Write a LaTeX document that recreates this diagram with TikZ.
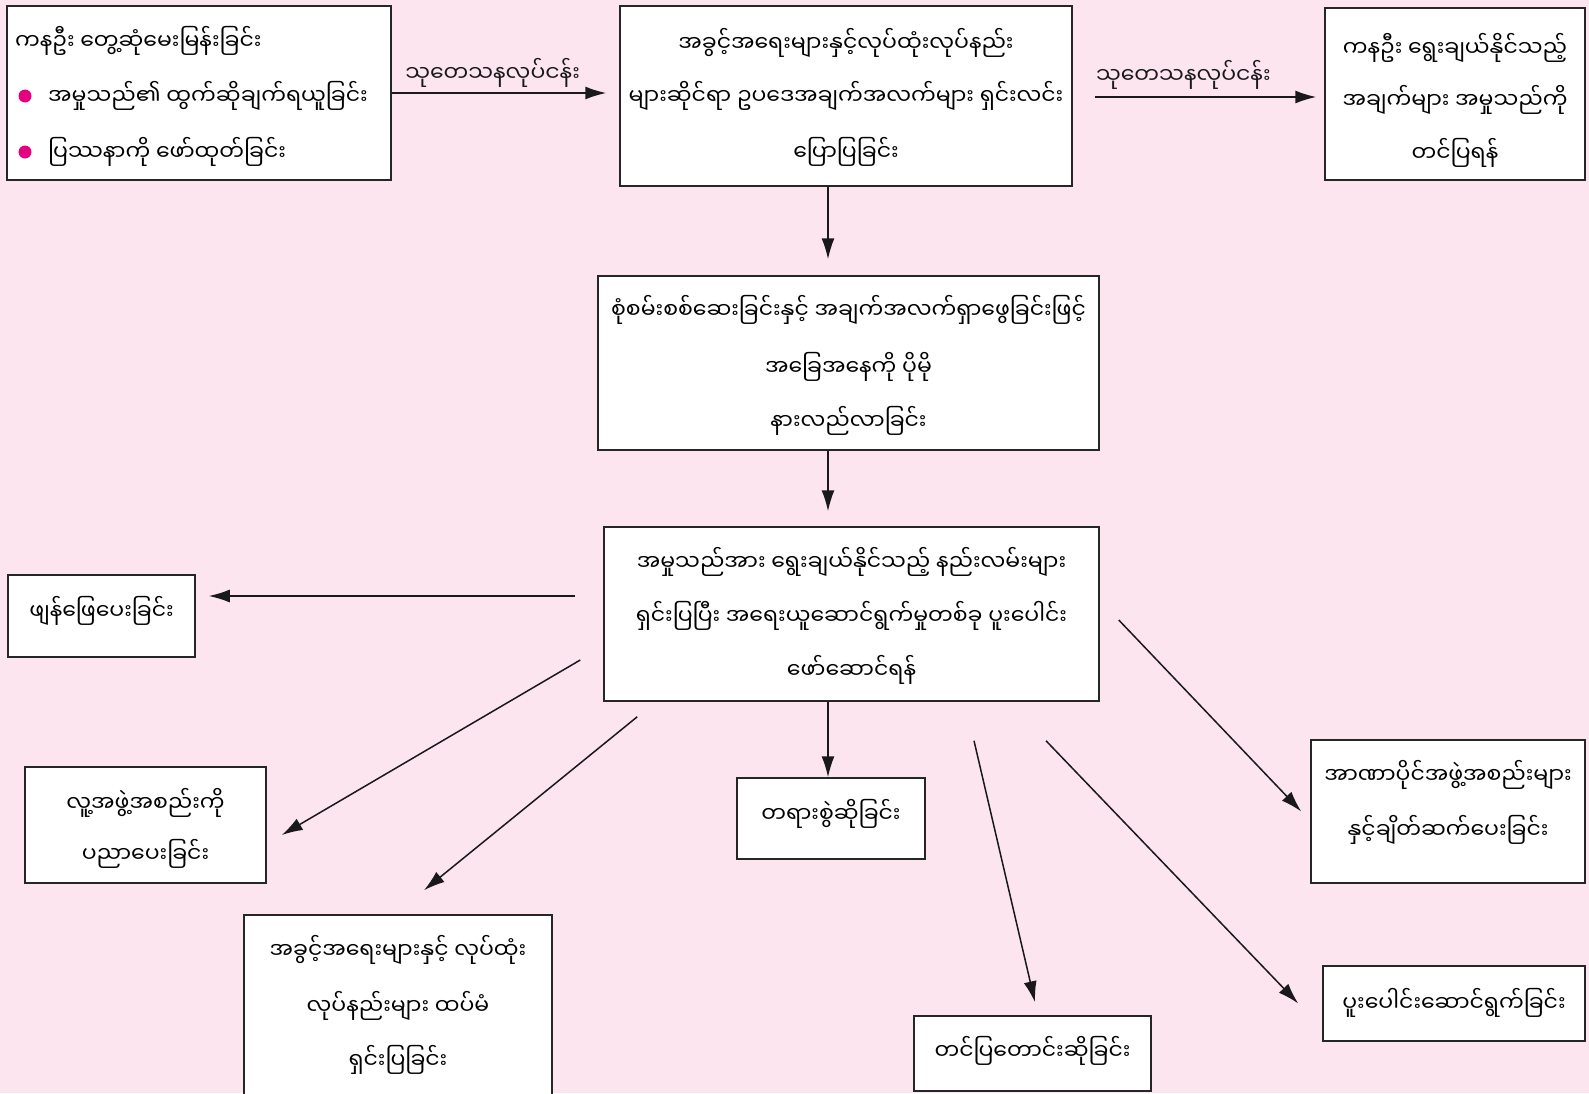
\documentclass[tikz,border=0pt]{standalone}
\usepackage{fontspec}
\newfontfamily\mm[Script=Myanmar]{Noto Sans Myanmar UI}
\usetikzlibrary{arrows.meta,calc}
\definecolor{bgpink}{HTML}{FCE5EF}
\definecolor{dotpink}{HTML}{E4007F}
\begin{document}
\begin{tikzpicture}[x=1pt,y=-1pt,
  box/.style={draw=black!85, line width=1.5pt, fill=white, inner sep=0pt},
  tl/.style={font=\mm\fontsize{22}{26}\selectfont, inner sep=0pt, anchor=base},
  tlw/.style={tl, anchor=base west},
  arr/.style={-{Latex[length=21pt,width=13pt]}, line width=1.5pt, black!90},
  dot/.style={fill=dotpink, draw=none}]
\useasboundingbox (0,0) rectangle (1589,1093);
\fill[bgpink] (0,0) rectangle (1589,1093);

% boxes
\node[box, minimum width=384pt, minimum height=174pt] (b1) at (199,93) {};
\node[box, minimum width=452pt, minimum height=180pt] (b2) at (846,96) {};
\node[box, minimum width=260pt, minimum height=172pt] (b3) at (1455,94) {};
\node[box, minimum width=501pt, minimum height=174pt] (b4) at (848.5,363) {};
\node[box, minimum width=495pt, minimum height=174pt] (b5) at (851.5,614) {};
\node[box, minimum width=187pt, minimum height=82pt] (fy) at (101.5,616) {};
\node[box, minimum width=241pt, minimum height=116pt] (lu) at (145.5,825) {};
\node[box, minimum width=308pt, minimum height=185pt] (ak) at (398,1007.5) {};
\node[box, minimum width=188pt, minimum height=81pt] (ty) at (831,818.5) {};
\node[box, minimum width=237pt, minimum height=75pt] (tp) at (1032.5,1053.5) {};
\node[box, minimum width=274pt, minimum height=143pt] (an) at (1448,811.5) {};
\node[box, minimum width=262pt, minimum height=75pt] (pu) at (1454,1003.5) {};

% texts
\node[tlw] (b1a) at (15,49) {ကနဦး တွေ့ဆုံမေးမြန်းခြင်း};
\fill[dot] (25,96) circle (6.5);
\node[tlw] (b1b) at (48,104) {အမှုသည်၏ ထွက်ဆိုချက်ရယူခြင်း};
\fill[dot] (25,152) circle (6.5);
\node[tlw] (b1c) at (48,160) {ပြဿနာကို ဖော်ထုတ်ခြင်း};

\node[tl] (b2a) at (846,51) {အခွင့်အရေးများနှင့်လုပ်ထုံးလုပ်နည်း};
\node[tl] (b2b) at (846,104) {များဆိုင်ရာ ဥပဒေအချက်အလက်များ ရှင်းလင်း};
\node[tl] (b2c) at (846,160) {ပြောပြခြင်း};

\node[tl] (b3a) at (1455,56) {ကနဦး ရွေးချယ်နိုင်သည့်};
\node[tl] (b3b) at (1455,108) {အချက်များ အမှုသည်ကို};
\node[tl] (b3c) at (1455,161) {တင်ပြရန်};

\node[tl] (b4a) at (848.5,318) {စုံစမ်းစစ်ဆေးခြင်းနှင့် အချက်အလက်ရှာဖွေခြင်းဖြင့်};
\node[tl] (b4b) at (848.5,375) {အခြေအနေကို ပိုမို};
\node[tl] (b4c) at (848.5,429) {နားလည်လာခြင်း};

\node[tl] (b5a) at (851.5,570) {အမှုသည်အား ရွေးချယ်နိုင်သည့် နည်းလမ်းများ};
\node[tl] (b5b) at (851.5,624) {ရှင်းပြပြီး အရေးယူဆောင်ရွက်မှုတစ်ခု ပူးပေါင်း};
\node[tl] (b5c) at (851.5,678) {ဖော်ဆောင်ရန်};

\node[tl] (fyt) at (101.5,619) {ဖျန်ဖြေပေးခြင်း};
\node[tl] (lut1) at (145.5,811) {လူ့အဖွဲ့အစည်းကို};
\node[tl] (lut2) at (145.5,862) {ပညာပေးခြင်း};
\node[tl] (akt1) at (398,958) {အခွင့်အရေးများနှင့် လုပ်ထုံး};
\node[tl] (akt2) at (398,1014) {လုပ်နည်းများ ထပ်မံ};
\node[tl] (akt3) at (398,1068) {ရှင်းပြခြင်း};
\node[tl] (tyt) at (831,822) {တရားစွဲဆိုခြင်း};
\node[tl] (tpt) at (1032.5,1059) {တင်ပြတောင်းဆိုခြင်း};
\node[tl] (ant1) at (1448,783) {အာဏာပိုင်အဖွဲ့အစည်းများ};
\node[tl] (ant2) at (1448,838) {နှင့်ချိတ်ဆက်ပေးခြင်း};
\node[tl] (put) at (1454,1011) {ပူးပေါင်းဆောင်ရွက်ခြင်း};

% connectors
\draw[arr] (b1.east) -- ([xshift=-13pt]b1.east -| b2.west)
  node[tl, anchor=center, pos=0.47, yshift=20pt] (l1) {သုတေသနလုပ်ငန်း};
\draw[arr] ([xshift=22pt,yshift=-1pt]b2.east) -- ([xshift=-8pt,yshift=-3pt]b3.west)
  node[tl, anchor=center, pos=0.40, yshift=22pt] (l2) {သုတေသနလုပ်ငန်း};
\draw[arr] ([xshift=-18pt]b2.south) -- ([xshift=-20.5pt,yshift=16pt]b4.north);
\draw[arr] ([xshift=-20.5pt]b4.south) -- ([xshift=-23.5pt,yshift=15pt]b5.north);
\draw[arr] ([xshift=-28pt,yshift=18pt]b5.west) -- ([xshift=13pt,yshift=20pt]fy.east);
\draw[arr] ([xshift=-23pt,yshift=-46pt]b5.west) -- ([xshift=15pt,yshift=-10pt]lu.east);
\draw[arr] ([xshift=34pt,yshift=-15pt]b5.south west) -- ([xshift=26pt,yshift=24pt]ak.north);
\draw[arr] ([xshift=-3pt]b5.south -| ty.north) -- ([xshift=-3pt]ty.north);
\draw[arr] ([xshift=122.5pt,yshift=-39pt]b5.south) -- ([xshift=2.5pt,yshift=13pt]tp.north);
\draw[arr] ([xshift=194.5pt,yshift=-39pt]b5.south) -- ([xshift=-24pt]pu.west);
\draw[arr] ([xshift=19pt,yshift=-6pt]b5.east) -- ([xshift=-9pt]an.west);
\end{tikzpicture}
\end{document}
